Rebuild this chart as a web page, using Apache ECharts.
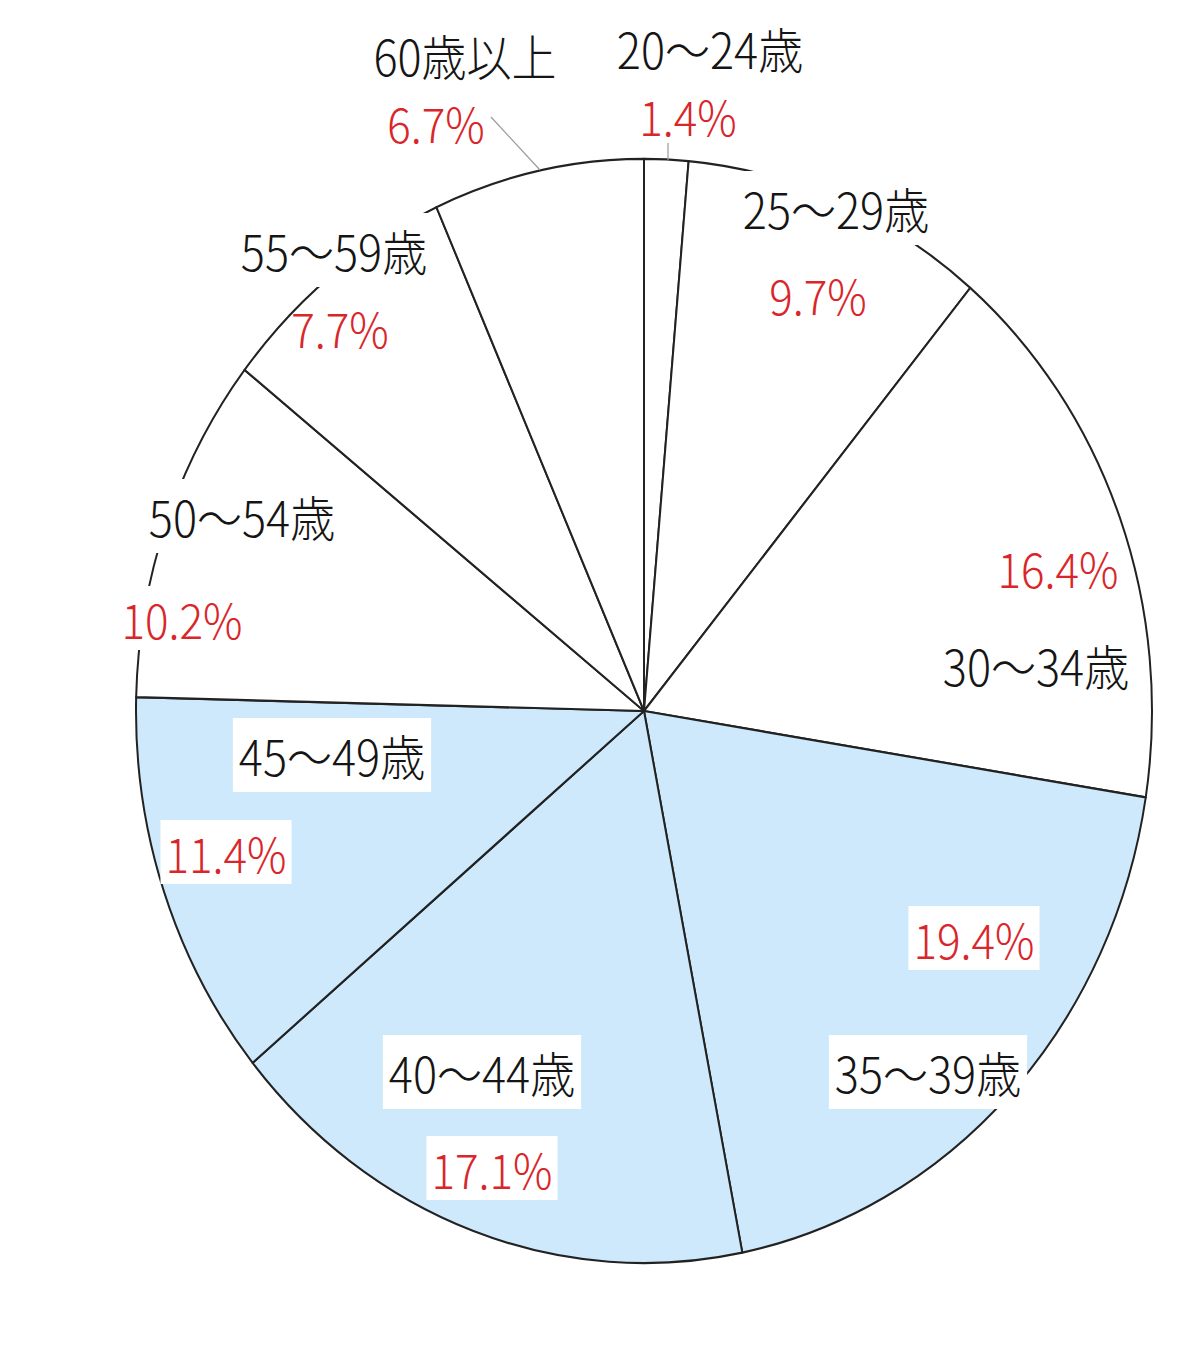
<!DOCTYPE html>
<html><head><meta charset="utf-8">
<script src="https://cdn.jsdelivr.net/npm/echarts@6/dist/echarts.min.js"></script>
<style>
html,body{margin:0;padding:0;background:#fff;overflow:hidden;width:1200px;height:1354px;}
#chart{width:1200px;height:1246px;transform:scaleY(1.0867);transform-origin:0 0;}
</style></head>
<body><div id="chart"></div>
<script>
// ---- data ----
const categories = ['20〜24歳','25〜29歳','30〜34歳','35〜39歳','40〜44歳','45〜49歳','50〜54歳','55〜59歳','60歳以上'];
const shares = [1.4, 9.7, 16.4, 19.4, 17.1, 11.4, 10.2, 7.7, 6.7];
const highlighted = [false, false, false, true, true, true, false, false, false];

// ---- label placement (page pixels) ----
const SY = 1.0867;
const namePos = [[710,48],[836,208],[1036,665],[928,1072],[482,1072],[332,755],[242,516],[334,250],[465,55]];
const pctPos  = [[688,115],[818,294],[1058,567],[974,938],[492,1168],[226,852],[182,618],[340,327],[436,122]];
const pctBoxed = [false, false, false, true, true, true, true, false, false];
const leaders = {0: [[668,160],[668,143]], 8: [[540,170],[491,117]]};

const FONT = '"Noto Sans CJK JP", "Noto Sans", sans-serif';
const FS_NAME = 45;
const FS_PCT = 44;
const BLUE = '#cde9fb';
const RED = '#d9262b';

const chart = echarts.init(document.getElementById('chart'), null, {renderer: 'svg'});

const common = {
  type: 'pie',
  center: [644, 711 / SY],
  radius: 508,
  startAngle: 90,
  clockwise: true,
  avoidLabelOverlap: false,
  animation: false,
  silent: true
};

const nameData = categories.map((c, i) => ({
  name: c, value: shares[i],
  itemStyle: {color: highlighted[i] ? BLUE : '#ffffff', borderColor: '#222', borderWidth: 2}
}));

const pctData = categories.map((c, i) => ({
  name: c, value: shares[i],
  itemStyle: {color: 'rgba(0,0,0,0)', borderWidth: 0},
  label: pctBoxed[i] ? {backgroundColor: '#fff', padding: [8, 5, 7, 5]} : {},
  labelLine: {show: leaders[i] !== undefined}
}));

chart.setOption({
  backgroundColor: '#ffffff',
  series: [
    Object.assign({}, common, {
      name: 'names',
      data: nameData,
      label: {show: true, position: 'inside', formatter: '{b}', color: '#151515', fontFamily: FONT, fontSize: FS_NAME, lineHeight: FS_NAME, fontWeight: 300,
              backgroundColor: '#fff', padding: [12, 6, 11, 6]},
      labelLine: {show: false},
      labelLayout: p => ({x: namePos[p.dataIndex][0], y: namePos[p.dataIndex][1] / SY, align: 'center', verticalAlign: 'middle'})
    }),
    Object.assign({}, common, {
      name: 'shares',
      z: 3,
      data: pctData,
      label: {show: true, position: 'outside', formatter: p => p.value.toFixed(1) + '%', color: RED, fontFamily: FONT, fontSize: FS_PCT, lineHeight: FS_PCT, fontWeight: 300},
      labelLine: {show: true, lineStyle: {color: '#9a9a9a', width: 1.2}},
      labelLayout: p => {
        const i = p.dataIndex;
        const o = {x: pctPos[i][0], y: pctPos[i][1] / SY, align: 'center', verticalAlign: 'middle'};
        if (leaders[i]) o.labelLinePoints = leaders[i].map(q => [q[0], q[1] / SY]);
        return o;
      }
    })
  ]
});
</script></body></html>
